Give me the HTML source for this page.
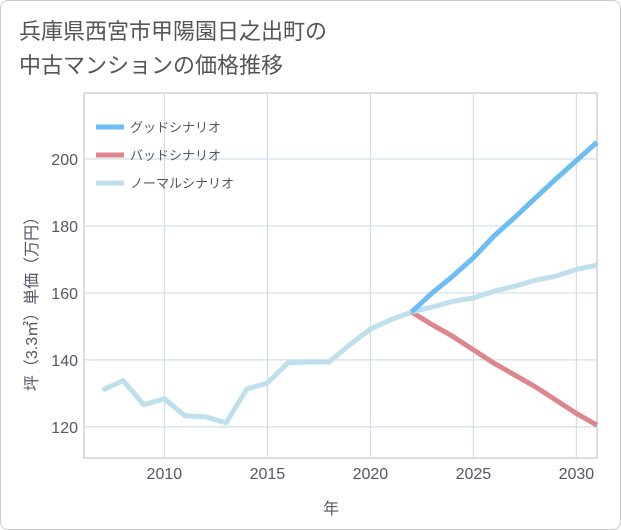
<!DOCTYPE html>
<html><head><meta charset="utf-8"><style>
body{margin:0;background:#fff;}
#wrap{position:relative;width:619px;height:528px;border:1px solid #ccc;border-radius:8px;overflow:hidden;font-family:"Liberation Sans","Noto Sans CJK JP",sans-serif;}
.title{position:absolute;left:18px;top:14px;font-size:22px;color:#555;line-height:34px;}
</style></head><body>
<div id="wrap">
<div class="title">兵庫県西宮市甲陽園日之出町の<br>中古マンションの価格推移</div>
<svg id="chart" width="621" height="530" style="position:absolute;left:-1px;top:-1px"></svg>
</div>
<script>
const histYears=[2007,2008,2009,2010,2011,2012,2013,2014,2015,2016,2017,2018,2019,2020,2021,2022];
const histValues=[131,133.8,126.6,128.4,123.3,123,121.2,131.3,133.1,139.1,139.4,139.4,144.5,149.2,152,154.3];
const futYears=[2022,2023,2024,2025,2026,2027,2028,2029,2030,2031];
const goodValues=[154.3,160,165,170.5,177,182.5,188.3,194,199.5,205];
const badValues=[154.3,150.5,147,143,139,135.5,132,128,124,120.5];
const normalValues=[154.3,155.8,157.5,158.5,160.5,162,163.8,165,167,168.3];
const xTicks=[2010,2015,2020,2025,2030];
const yTicks=[120,140,160,180,200];
const L=84,R=597,T=93,B=458;
const x0=2006.1,x1=2031.0,y0=110.7,y1=219.7;
const X=v=>L+(v-x0)/(x1-x0)*(R-L);
const Y=v=>B-(v-y0)/(y1-y0)*(B-T);
const svg=document.getElementById('chart');
const NS='http://www.w3.org/2000/svg';
function mk(tag,attrs,parent){const e=document.createElementNS(NS,tag);for(const k in attrs)e.setAttribute(k,attrs[k]);(parent||svg).appendChild(e);return e;}
let e;
e=mk('rect',{x:L,y:T,width:R-L,height:B-T,fill:'#fff',stroke:'#bbb'});


xTicks.forEach(t=>{
 e=mk('line',{x1:X(t),x2:X(t),y1:T,y2:B,stroke:'#d3dfe8','stroke-width':1.2});
 
 
 e=mk('text',{x:X(t),y:479,'text-anchor':'middle','font-size':16,fill:'#556'});e.textContent=t;
 
 
});
yTicks.forEach(t=>{
 e=mk('line',{x1:L,x2:R,y1:Y(t),y2:Y(t),stroke:'#d3dfe8','stroke-width':1.2});
 
 
 e=mk('text',{x:78,y:Y(t)+6,'text-anchor':'end','font-size':16,fill:'#556'});e.textContent=t;
 
 
});
function line(xs,vs,color,name){
 const p=mk('polyline',{points:xs.map((x,i)=>X(x)+','+Y(vs[i])).join(' '),fill:'none',stroke:color,'stroke-width':5,'stroke-linejoin':'round'});
 
 
}
line(histYears,histValues,'#bde0ec','normal-history-line');
line(futYears,badValues,'#dd868d','bad-scenario-line');
line(futYears,normalValues,'#bde0ec','normal-scenario-line');
line(futYears,goodValues,'#6bbdf3','good-scenario-line');
const legNames=['グッドシナリオ','バッドシナリオ','ノーマルシナリオ'];
const legColors=['#6bbdf3','#dd868d','#bde0ec'];
legNames.forEach((n,i)=>{
 const y=127+i*28;
 e=mk('line',{x1:96,x2:124,y1:y,y2:y,stroke:legColors[i],'stroke-width':5});
 
 
 e=mk('text',{x:130,y:y+5,'font-size':13,fill:'#556'});e.textContent=n;
 
 
});
e=mk('text',{x:331,y:514,'text-anchor':'middle','font-size':16,fill:'#556'});e.textContent='年';


e=mk('text',{x:0,y:0,'text-anchor':'middle','font-size':16,fill:'#556',transform:'translate(37,300) rotate(-90)'});e.textContent='坪（3.3㎡）単価（万円）';


</script>
</body></html>
